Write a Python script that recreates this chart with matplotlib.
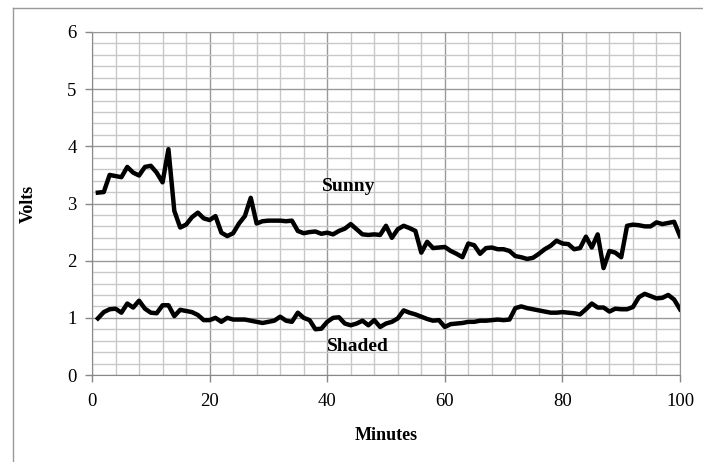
import matplotlib
matplotlib.use("Agg")
import matplotlib.pyplot as plt
from matplotlib.ticker import MultipleLocator
from matplotlib.lines import Line2D

minutes = list(range(1, 101))
sunny = [3.19, 3.20, 3.50, 3.48, 3.46, 3.64, 3.54, 3.49, 3.64, 3.66,
         3.54, 3.37, 3.95, 2.87, 2.58, 2.63, 2.76, 2.84, 2.74, 2.71,
         2.78, 2.49, 2.43, 2.48, 2.65, 2.78, 3.10, 2.65, 2.69, 2.70,
         2.70, 2.70, 2.69, 2.70, 2.52, 2.48, 2.50, 2.51, 2.47, 2.49,
         2.46, 2.52, 2.56, 2.64, 2.55, 2.46, 2.45, 2.46, 2.45, 2.61,
         2.40, 2.55, 2.61, 2.57, 2.52, 2.14, 2.33, 2.22, 2.23, 2.24,
         2.17, 2.12, 2.06, 2.30, 2.27, 2.12, 2.22, 2.23, 2.20, 2.20,
         2.17, 2.08, 2.06, 2.03, 2.05, 2.12, 2.20, 2.26, 2.35, 2.30,
         2.29, 2.20, 2.22, 2.42, 2.23, 2.46, 1.87, 2.17, 2.14, 2.06,
         2.61, 2.63, 2.62, 2.60, 2.60, 2.67, 2.64, 2.66, 2.68, 2.43]
shaded = [0.99, 1.10, 1.15, 1.16, 1.09, 1.25, 1.18, 1.30, 1.16, 1.09,
          1.08, 1.22, 1.22, 1.03, 1.14, 1.12, 1.10, 1.05, 0.96, 0.96,
          1.00, 0.93, 1.00, 0.97, 0.97, 0.97, 0.95, 0.93, 0.91, 0.93,
          0.95, 1.02, 0.95, 0.93, 1.09, 1.00, 0.96, 0.80, 0.81, 0.93,
          1.00, 1.01, 0.90, 0.87, 0.90, 0.95, 0.87, 0.96, 0.84, 0.90,
          0.93, 0.99, 1.13, 1.09, 1.06, 1.02, 0.98, 0.95, 0.96, 0.84,
          0.89, 0.90, 0.91, 0.93, 0.93, 0.95, 0.95, 0.96, 0.97, 0.96,
          0.97, 1.17, 1.20, 1.17, 1.15, 1.13, 1.11, 1.09, 1.09, 1.10,
          1.09, 1.08, 1.06, 1.15, 1.25, 1.18, 1.18, 1.11, 1.16, 1.15,
          1.15, 1.19, 1.36, 1.42, 1.38, 1.34, 1.35, 1.40, 1.32, 1.15]
x_ticks = [0, 20, 40, 60, 80, 100]
y_ticks = [0, 1, 2, 3, 4, 5, 6]

plt.rcParams['font.family'] = ['Liberation Serif', 'DejaVu Serif']

fig = plt.figure(figsize=(7.03, 4.62), dpi=100)
ax = fig.add_axes([92/703, 1 - 375/462, (680 - 92)/703, (375 - 32)/462])

ax.set_xlim(0, 100)
ax.set_ylim(0, 6)
ax.set_xticks(x_ticks)
ax.set_yticks(y_ticks)
ax.xaxis.set_minor_locator(MultipleLocator(4))
ax.yaxis.set_minor_locator(MultipleLocator(0.2))
ax.grid(which='minor', color='#c8c8c8', linewidth=1.0)
ax.grid(which='major', color='#999999', linewidth=1.0)
ax.set_axisbelow(True)

ax.tick_params(which='minor', length=0)
ax.tick_params(which='major', length=5, color='#888888', labelsize=13.5, width=1)
ax.tick_params(axis='x', pad=8)
ax.tick_params(axis='y', pad=6)

for side in ['top', 'right']:
    ax.spines[side].set_color('#999999')
for side in ['left', 'bottom']:
    ax.spines[side].set_color('#888888')

ax.plot(minutes, sunny, color='black', linewidth=3.2, solid_joinstyle='round')
ax.plot(minutes, shaded, color='black', linewidth=3.2, solid_joinstyle='round')

ax.text(43.7, 3.3, 'Sunny', fontsize=14, fontweight='bold', ha='center', va='center')
ax.text(45.2, 0.5, 'Shaded', fontsize=14, fontweight='bold', ha='center', va='center')

ax.set_xlabel('Minutes', fontsize=13, fontweight='bold', labelpad=12)
ax.set_ylabel('Volts', fontsize=13, fontweight='bold', labelpad=22)

# outer frame
fig.add_artist(Line2D([13/703, 13/703], [0, 1 - 8/462], transform=fig.transFigure,
                      color='#999999', linewidth=1))
fig.add_artist(Line2D([13/703, 1], [1 - 8/462, 1 - 8/462], transform=fig.transFigure,
                      color='#999999', linewidth=1))

fig.savefig('out.png', dpi=100)
